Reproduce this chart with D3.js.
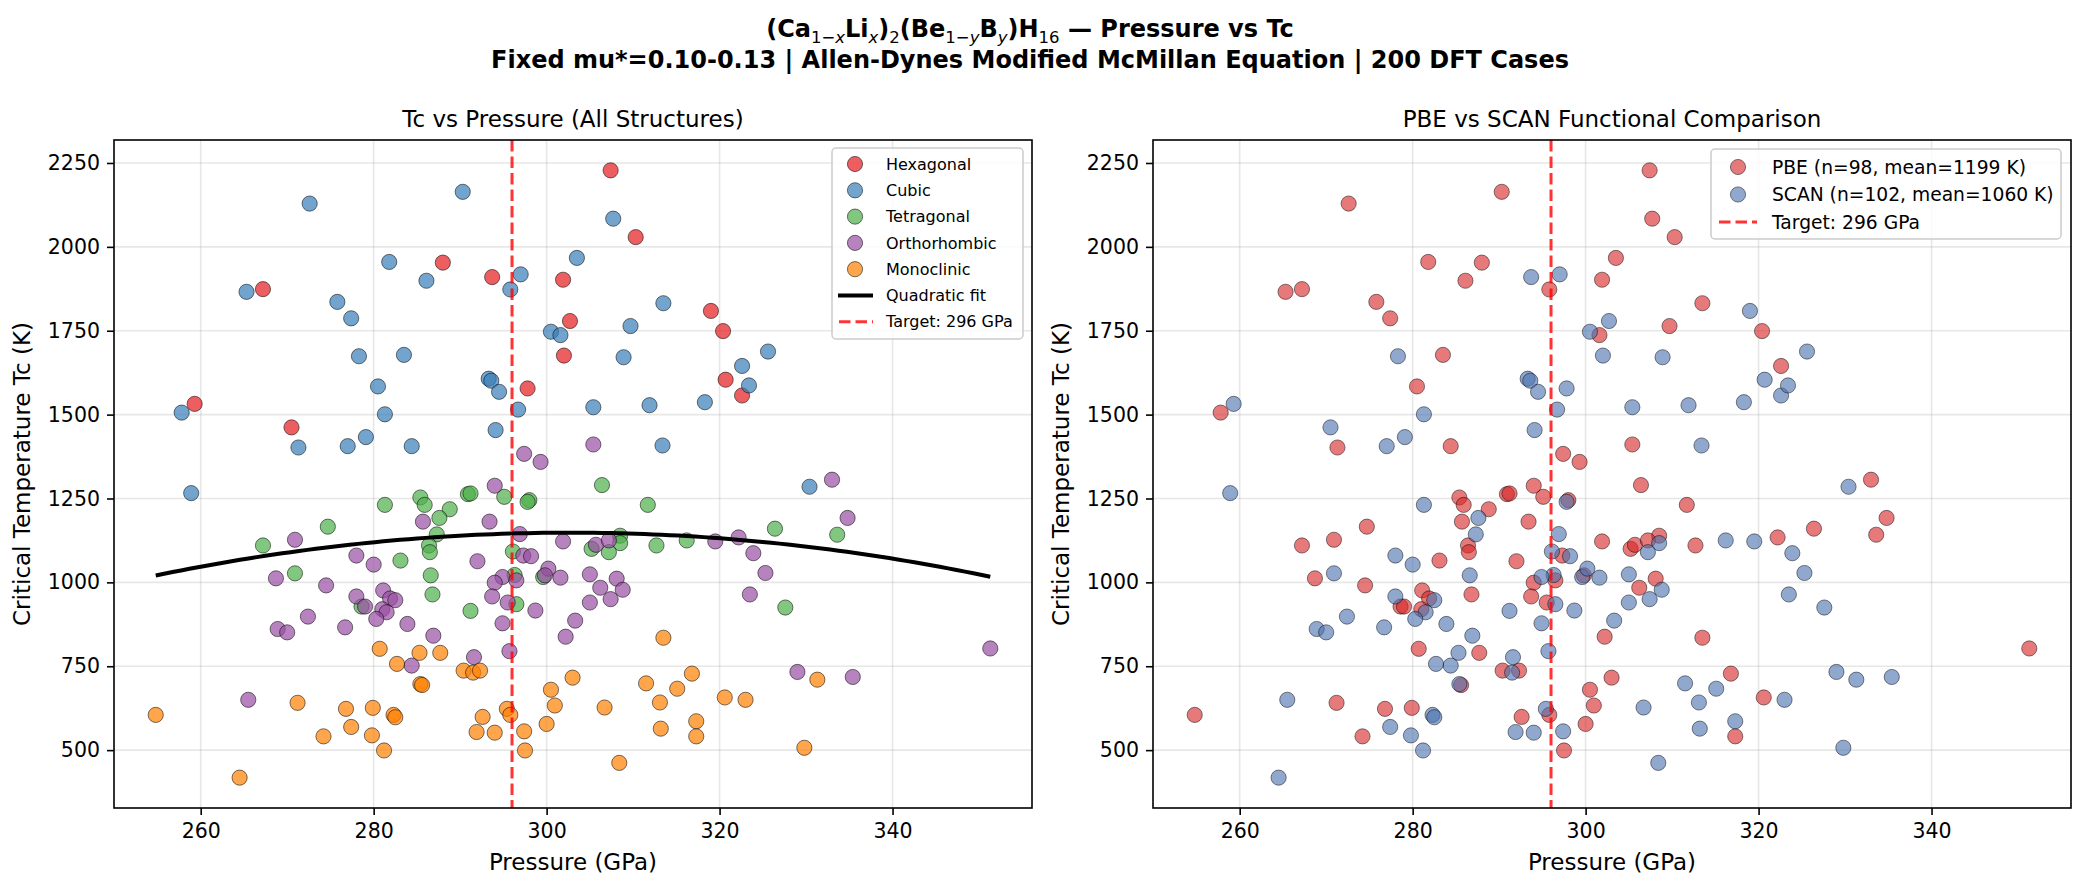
<!DOCTYPE html>
<html>
<head>
<meta charset="utf-8">
<script src="https://cdn.jsdelivr.net/npm/d3@7"></script>
<style>
  body { margin: 0; background: #fff; }
  text { font-family: "DejaVu Sans", sans-serif; fill: #000; }
</style>
</head>
<body>
<script>
// each point: [pressure GPa, Tc K, functional code]  P = PBE, S = SCAN
const hexagonal = [
  [259.3,1532,"S"],[267.2,1874,"P"],[270.5,1462,"S"],[288.0,1953,"P"],[293.7,1910,"S"],
  [297.8,1578,"S"],[301.9,1902,"P"],[302.7,1779,"S"],[302.0,1676,"S"],[307.4,2228,"P"],
  [310.3,2029,"P"],[319.0,1809,"S"],[320.4,1749,"P"],[320.7,1604,"S"],[322.6,1557,"S"]
];
const cubic = [
  [272.6,2129,"P"],[265.3,1866,"P"],[290.3,2164,"P"],[281.8,1955,"P"],[286.1,1899,"P"],
  [297.0,1918,"S"],[295.8,1873,"P"],[275.8,1836,"P"],[277.4,1787,"P"],[278.3,1674,"S"],
  [283.5,1678,"P"],[300.5,1747,"S"],[301.6,1737,"P"],[307.7,2084,"P"],[303.5,1967,"P"],
  [313.5,1832,"P"],[309.7,1764,"P"],[308.9,1671,"S"],[325.6,1688,"S"],[322.6,1645,"P"],
  [293.3,1607,"S"],[293.6,1601,"S"],[294.5,1568,"S"],[280.5,1584,"P"],[296.7,1515,"S"],
  [281.3,1501,"S"],[294.1,1454,"S"],[279.1,1433,"S"],[277.0,1406,"S"],[284.4,1406,"P"],
  [257.8,1506,"P"],[271.3,1402,"P"],[258.9,1266,"S"],[323.4,1587,"S"],[318.3,1537,"S"],
  [305.4,1522,"S"],[311.9,1528,"S"],[313.4,1408,"S"],[330.4,1285,"S"]
];
const tetragonal = [
  [267.2,1110,"P"],[270.9,1027,"S"],[274.7,1166,"P"],[281.3,1231,"S"],[283.1,1065,"P"],
  [285.4,1253,"P"],[285.9,1231,"P"],[288.8,1218,"P"],[287.6,1192,"S"],[287.3,1143,"S"],
  [286.4,1110,"P"],[286.5,1090,"P"],[286.6,1021,"S"],[286.8,964,"P"],[290.9,1263,"P"],
  [291.2,1265,"P"],[295.1,1255,"P"],[298.0,1245,"P"],[297.8,1240,"S"],[296.1,1092,"S"],
  [296.3,1022,"S"],[296.5,935,"S"],[299.6,1016,"S"],[291.2,915,"S"],[278.6,928,"P"],
  [306.4,1290,"P"],[311.7,1231,"P"],[305.2,1100,"P"],[308.5,1139,"P"],[308.5,1117,"S"],
  [307.2,1090,"S"],[312.7,1110,"P"],[316.2,1125,"S"],[326.4,1160,"P"],[327.6,925,"S"],
  [333.6,1142,"P"]
];
const orthorhombic = [
  [270.9,1127,"P"],[268.7,1012,"P"],[274.5,991,"P"],[278.0,1080,"S"],[280.0,1053,"S"],
  [285.7,1181,"P"],[293.4,1181,"P"],[294.0,1288,"P"],[297.4,1383,"P"],[299.3,1359,"P"],
  [296.9,1144,"S"],[292.0,1063,"P"],[297.3,1080,"P"],[298.2,1078,"S"],[294.9,1016,"S"],
  [294.0,999,"P"],[296.5,1006,"P"],[293.7,958,"P"],[295.5,940,"P"],[294.9,878,"S"],
  [295.7,795,"S"],[298.7,916,"S"],[278.0,958,"S"],[281.1,976,"P"],[281.9,952,"P"],
  [282.5,947,"S"],[279.0,928,"P"],[281.0,920,"P"],[281.5,911,"S"],[280.3,891,"S"],
  [272.4,898,"S"],[268.9,861,"S"],[270.0,851,"S"],[276.7,866,"S"],[283.9,876,"S"],
  [286.9,841,"S"],[284.4,752,"S"],[291.6,777,"S"],[265.5,650,"S"],[305.4,1411,"P"],
  [301.9,1122,"P"],[305.7,1112,"P"],[307.2,1125,"P"],[319.5,1122,"S"],[322.2,1134,"P"],
  [323.9,1087,"S"],[325.3,1028,"S"],[323.5,964,"S"],[300.2,1041,"S"],[299.8,1021,"P"],
  [301.6,1014,"S"],[305.0,1024,"S"],[308.1,1011,"P"],[306.2,984,"P"],[308.8,978,"S"],
  [307.4,950,"S"],[305.0,940,"S"],[303.3,886,"S"],[302.2,838,"P"],[333.0,1306,"P"],
  [334.8,1192,"P"],[351.3,803,"P"],[329.0,733,"S"],[335.4,718,"S"]
];
const monoclinic = [
  [254.8,605,"P"],[264.5,418,"S"],[271.2,641,"P"],[276.8,623,"P"],[274.2,541,"P"],
  [277.4,569,"S"],[279.9,626,"P"],[279.8,544,"S"],[281.2,499,"S"],[280.7,802,"P"],
  [282.7,757,"S"],[282.3,605,"S"],[282.5,598,"S"],[285.3,790,"S"],[287.7,790,"P"],
  [285.4,697,"S"],[285.6,694,"P"],[290.4,737,"P"],[291.5,731,"S"],[292.3,737,"P"],
  [292.6,599,"P"],[291.9,554,"S"],[294.0,552,"S"],[295.4,623,"S"],[295.8,605,"P"],
  [297.4,556,"S"],[297.5,499,"P"],[300.0,578,"P"],[300.5,680,"P"],[300.95,633,"P"],
  [303.0,716,"P"],[306.7,627,"S"],[308.4,462,"S"],[311.5,699,"S"],[313.1,642,"S"],
  [313.2,564,"S"],[313.5,835,"P"],[315.1,683,"S"],[316.8,728,"P"],[317.3,586,"S"],
  [317.3,541,"P"],[320.6,657,"P"],[323.0,650,"S"],[331.3,710,"S"],[329.8,507,"S"]
];

const structureNames = ["Hexagonal", "Cubic", "Tetragonal", "Orthorhombic", "Monoclinic"];
const structureColors = ["#e41a1c", "#377eb8", "#4daf4a", "#984ea3", "#ff7f00"];
const structurePoints = [hexagonal, cubic, tetragonal, orthorhombic, monoclinic];

const functionalCodes = ["P", "S"];
const functionalColors = ["#d62728", "#4c72b0"];
const functionalLabels = ["PBE (n=98, mean=1199 K)", "SCAN (n=102, mean=1060 K)"];

const targetPressure = 296;
const targetLabel = "Target: 296 GPa";
const xTicks = [260, 280, 300, 320, 340];
const yTicks = [500, 750, 1000, 1250, 1500, 1750, 2000, 2250];

const W = 2085, H = 889;
const panelLeft = { x: 114, y: 140, w: 918, h: 668 };
const panelRight = { x: 1153, y: 140, w: 918, h: 668 };

const svg = d3.select("body").append("svg").attr("width", W).attr("height", H);
svg.append("rect").attr("width", W).attr("height", H).attr("fill", "#fff");

const allPoints = structurePoints.flat();
const pExt = d3.extent(allPoints, (d) => d[0]);
const tExt = d3.extent(allPoints, (d) => d[1]);
const pPad = (pExt[1] - pExt[0]) * 0.05;
const tPad = (tExt[1] - tExt[0]) * 0.05;

// quadratic least-squares fit of Tc on pressure
const pMean = d3.mean(allPoints, (d) => d[0]);
function quadFit(pts) {
  const S = [0, 0, 0, 0, 0], T = [0, 0, 0];
  pts.forEach(([p, tc]) => {
    const u = p - pMean;
    for (let k = 0; k < 5; k++) S[k] += Math.pow(u, k);
    for (let k = 0; k < 3; k++) T[k] += tc * Math.pow(u, k);
  });
  const A = [
    [S[0], S[1], S[2], T[0]],
    [S[1], S[2], S[3], T[1]],
    [S[2], S[3], S[4], T[2]]
  ];
  for (let i = 0; i < 3; i++) {
    for (let j = i + 1; j < 3; j++) {
      const f = A[j][i] / A[i][i];
      for (let k = i; k < 4; k++) A[j][k] -= f * A[i][k];
    }
  }
  const c = [0, 0, 0];
  for (let i = 2; i >= 0; i--) {
    let s = A[i][3];
    for (let k = i + 1; k < 3; k++) s -= A[i][k] * c[k];
    c[i] = s / A[i][i];
  }
  return (p) => c[0] + c[1] * (p - pMean) + c[2] * (p - pMean) * (p - pMean);
}
const fit = quadFit(allPoints);
const fitLine = d3.range(100).map((i) => {
  const p = pExt[0] + (pExt[1] - pExt[0]) * i / 99;
  return [p, fit(p)];
});

function makePanel(box, title) {
  const g = svg.append("g").attr("transform", `translate(${box.x},${box.y})`);
  const x = d3.scaleLinear().domain([pExt[0] - pPad, pExt[1] + pPad]).range([0, box.w]);
  const y = d3.scaleLinear().domain([tExt[0] - tPad, tExt[1] + tPad]).range([box.h, 0]);

  // grid
  g.append("g").selectAll("line").data(xTicks).join("line")
    .attr("x1", (d) => x(d)).attr("x2", (d) => x(d)).attr("y1", 0).attr("y2", box.h)
    .attr("stroke", "#b0b0b0").attr("stroke-opacity", 0.3).attr("stroke-width", 1.6);
  g.append("g").selectAll("line").data(yTicks).join("line")
    .attr("y1", (d) => y(d)).attr("y2", (d) => y(d)).attr("x1", 0).attr("x2", box.w)
    .attr("stroke", "#b0b0b0").attr("stroke-opacity", 0.3).attr("stroke-width", 1.6);

  const xAxis = g.append("g").attr("transform", `translate(0,${box.h})`)
    .call(d3.axisBottom(x).tickValues(xTicks).tickFormat(d3.format("d")).tickSize(7).tickPadding(8));
  const yAxis = g.append("g")
    .call(d3.axisLeft(y).tickValues(yTicks).tickFormat(d3.format("d")).tickSize(7).tickPadding(7));
  [xAxis, yAxis].forEach((a) => {
    a.select(".domain").remove();
    a.selectAll("line").attr("stroke", "#000").attr("stroke-width", 1.6);
    a.selectAll("text").attr("font-size", "20.5px").attr("font-family", "DejaVu Sans");
  });

  g.append("text").attr("x", box.w / 2).attr("y", -13).attr("text-anchor", "middle")
    .attr("font-size", "23px").text(title);
  g.append("text").attr("x", box.w / 2).attr("y", box.h + 62).attr("text-anchor", "middle")
    .attr("font-size", "23px").text("Pressure (GPa)");
  g.append("text").attr("transform", `translate(-92,${box.h / 2}) rotate(-90)`)
    .attr("dy", "0.35em").attr("text-anchor", "middle")
    .attr("font-size", "23px").text("Critical Temperature Tc (K)");

  return { g, x, y };
}

function dot(sel, color, alpha) {
  sel.attr("r", 7.6).attr("fill", color).attr("fill-opacity", alpha)
    .attr("stroke", "#000").attr("stroke-opacity", alpha * 0.75).attr("stroke-width", 1);
}

function targetLine(p) {
  p.g.append("line")
    .attr("x1", p.x(targetPressure)).attr("x2", p.x(targetPressure))
    .attr("y1", 0).attr("y2", panelLeft.h)
    .attr("stroke", "#ff0000").attr("stroke-opacity", 0.8).attr("stroke-width", 3)
    .attr("stroke-dasharray", "11.5,5");
}

function frame(p, box) {
  p.g.append("rect").attr("width", box.w).attr("height", box.h)
    .attr("fill", "none").attr("stroke", "#000").attr("stroke-width", 1.6);
}

// ---- left panel: by structure
const left = makePanel(panelLeft, "Tc vs Pressure (All Structures)");
structurePoints.forEach((pts, i) => {
  left.g.append("g").selectAll("circle").data(pts).join("circle")
    .attr("cx", (d) => left.x(d[0])).attr("cy", (d) => left.y(d[1]))
    .call(dot, structureColors[i], 0.7);
});
left.g.append("path").datum(fitLine)
  .attr("d", d3.line().x((d) => left.x(d[0])).y((d) => left.y(d[1])))
  .attr("fill", "none").attr("stroke", "#000").attr("stroke-width", 4);
targetLine(left);
frame(left, panelLeft);

// left legend
const lg = left.g.append("g").attr("transform", `translate(${832 - panelLeft.x},${148 - panelLeft.y})`);
lg.append("rect").attr("width", 191).attr("height", 191).attr("rx", 4)
  .attr("fill", "#fff").attr("fill-opacity", 0.8).attr("stroke", "#ccc").attr("stroke-width", 1.5);
const leftEntries = structureNames.concat(["Quadratic fit", targetLabel]);
leftEntries.forEach((name, i) => {
  const cy = 16 + i * 26.3;
  if (i < structureNames.length) {
    lg.append("circle").attr("cx", 23).attr("cy", cy).call(dot, structureColors[i], 0.7);
  } else if (name === "Quadratic fit") {
    lg.append("line").attr("x1", 6).attr("x2", 41).attr("y1", cy).attr("y2", cy)
      .attr("stroke", "#000").attr("stroke-width", 4);
  } else {
    lg.append("line").attr("x1", 7).attr("x2", 41).attr("y1", cy).attr("y2", cy)
      .attr("stroke", "#ff0000").attr("stroke-opacity", 0.8).attr("stroke-width", 3)
      .attr("stroke-dasharray", "11.5,5");
  }
  lg.append("text").attr("x", 54).attr("y", cy).attr("dy", "0.35em")
    .attr("font-size", "16px").text(name);
});

// ---- right panel: by functional
const right = makePanel(panelRight, "PBE vs SCAN Functional Comparison");
functionalCodes.forEach((code, i) => {
  right.g.append("g").selectAll("circle").data(allPoints.filter((d) => d[2] === code)).join("circle")
    .attr("cx", (d) => right.x(d[0])).attr("cy", (d) => right.y(d[1]))
    .call(dot, functionalColors[i], 0.62);
});
targetLine(right);
frame(right, panelRight);

const rg = right.g.append("g").attr("transform", `translate(${1711 - panelRight.x},${149 - panelRight.y})`);
rg.append("rect").attr("width", 350).attr("height", 90).attr("rx", 4)
  .attr("fill", "#fff").attr("fill-opacity", 0.8).attr("stroke", "#ccc").attr("stroke-width", 1.5);
functionalLabels.concat([targetLabel]).forEach((name, i) => {
  const cy = 18 + i * 27.5;
  if (i < functionalLabels.length) {
    rg.append("circle").attr("cx", 27).attr("cy", cy).call(dot, functionalColors[i], 0.62);
  } else {
    rg.append("line").attr("x1", 8).attr("x2", 46).attr("y1", cy).attr("y2", cy)
      .attr("stroke", "#ff0000").attr("stroke-opacity", 0.8).attr("stroke-width", 3)
      .attr("stroke-dasharray", "11.5,5");
  }
  rg.append("text").attr("x", 61).attr("y", cy).attr("dy", "0.35em")
    .attr("font-size", "18.7px").text(name);
});

// ---- suptitle
const titleParts = [
  { t: "(Ca" }, { t: "1\u2212", s: 1 }, { t: "x", s: 1, i: 1 }, { t: "Li" }, { t: "x", s: 1, i: 1 },
  { t: ")" }, { t: "2", s: 1 }, { t: "(Be" }, { t: "1\u2212", s: 1 }, { t: "y", s: 1, i: 1 },
  { t: "B" }, { t: "y", s: 1, i: 1 }, { t: ")H" }, { t: "16", s: 1 }, { t: " \u2014 Pressure vs Tc" }
];
const t1 = svg.append("text").attr("x", 1030).attr("y", 37).attr("text-anchor", "middle")
  .attr("font-size", "24px").attr("font-weight", "bold");
let shift = 0;
titleParts.forEach((p) => {
  const target = p.s ? 6 : 0;
  t1.append("tspan").attr("dy", target - shift)
    .attr("font-size", p.s ? "16.5px" : null)
    .attr("font-weight", p.s ? "normal" : null)
    .attr("font-style", p.i ? "italic" : null)
    .text(p.t);
  shift = target;
});
svg.append("text").attr("x", 1030).attr("y", 68).attr("text-anchor", "middle")
  .attr("font-size", "24px").attr("font-weight", "bold")
  .text("Fixed mu*=0.10-0.13 | Allen-Dynes Modified McMillan Equation | 200 DFT Cases");
</script>
</body>
</html>
